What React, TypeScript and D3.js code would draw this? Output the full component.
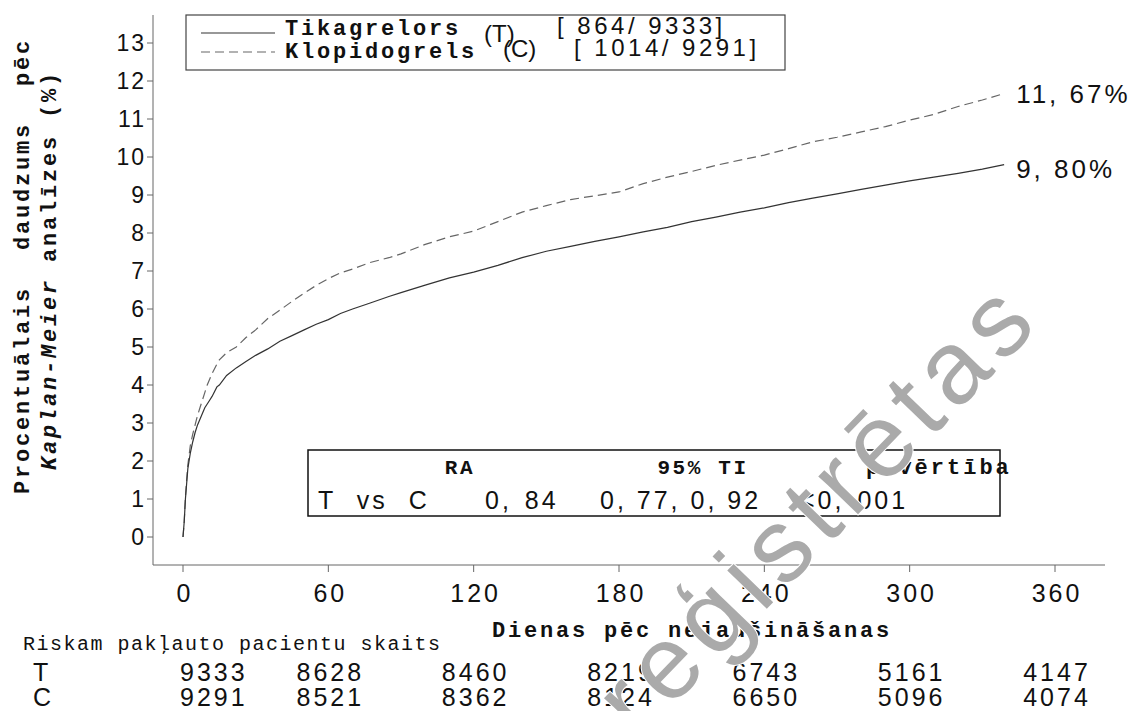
import React from "react";
import * as d3 from "d3";

const days = [0, 0.5, 1, 1.5, 2, 3, 4, 5, 6, 7, 8, 9, 10, 11, 12, 14, 15, 18, 22, 26, 30, 35, 40, 45, 50, 55, 60, 65, 70, 77, 85, 90, 100, 110, 120, 130, 140, 150, 160, 170, 180, 190, 200, 210, 220, 230, 240, 250, 260, 270, 280, 290, 300, 310, 320, 330, 339];
const ticagrelor = [0, 0.4, 1.0, 1.4, 1.8, 2.2, 2.5, 2.75, 2.95, 3.1, 3.25, 3.4, 3.5, 3.6, 3.7, 3.95, 4.0, 4.25, 4.45, 4.62, 4.78, 4.95, 5.15, 5.3, 5.45, 5.6, 5.72, 5.88, 6.0, 6.15, 6.33, 6.43, 6.63, 6.82, 6.97, 7.15, 7.35, 7.52, 7.65, 7.78, 7.9, 8.03, 8.15, 8.3, 8.42, 8.55, 8.66, 8.8, 8.92, 9.03, 9.15, 9.26, 9.37, 9.47, 9.57, 9.68, 9.8];
const clopidogrel = [0, 0.4, 1.05, 1.5, 1.9, 2.4, 2.7, 2.95, 3.2, 3.4, 3.6, 3.8, 4.0, 4.15, 4.3, 4.55, 4.66, 4.85, 5.0, 5.25, 5.45, 5.75, 5.97, 6.2, 6.42, 6.62, 6.8, 6.95, 7.05, 7.22, 7.35, 7.45, 7.7, 7.9, 8.05, 8.3, 8.55, 8.72, 8.88, 8.98, 9.08, 9.3, 9.47, 9.62, 9.78, 9.92, 10.05, 10.22, 10.4, 10.52, 10.66, 10.8, 10.97, 11.12, 11.33, 11.5, 11.67];

const xTicks = [0, 60, 120, 180, 240, 300, 360];
const yTicks = [0, 1, 2, 3, 4, 5, 6, 7, 8, 9, 10, 11, 12, 13];
const atRiskT = [9333, 8628, 8460, 8219, 6743, 5161, 4147];
const atRiskC = [9291, 8521, 8362, 8124, 6650, 5096, 4074];
const endLabels = ["11, 67%", "9, 80%"];

const MONO = "'Liberation Mono', 'DejaVu Sans Mono', monospace";
const SANS = "'Liberation Sans', Arial, sans-serif";

export default function App() {
  const x = d3.scaleLinear().domain([0, 360]).range([183, 1055]);
  const y = d3.scaleLinear().domain([0, 13]).range([537, 43]);
  const line = d3
    .line<number>()
    .x((_, i) => x(days[i]))
    .y((d) => y(d))
    .curve(d3.curveLinear);

  const axisColor = "#666";
  const last = days.length - 1;

  return (
    <svg
      width={1131}
      height={711}
      style={{ position: "absolute", left: 0, top: 0, background: "#fff" }}
    >
      <rect x={0} y={0} width={1131} height={711} fill="#fff" />

      {/* axes */}
      <line x1={153} x2={153} y1={15} y2={565} stroke={axisColor} strokeWidth={1} />
      <line x1={153} x2={1105} y1={565} y2={565} stroke={axisColor} strokeWidth={1} />
      {yTicks.map((t) => (
        <g key={"y" + t}>
          <line x1={147} x2={153} y1={y(t)} y2={y(t)} stroke={axisColor} />
          <text
            x={146}
            y={y(t)}
            dy="0.36em"
            textAnchor="end"
            fontFamily={SANS}
            fontSize={23}
            letterSpacing={2}
            fill="#111"
          >
            {t}
          </text>
        </g>
      ))}
      {xTicks.map((t) => (
        <g key={"x" + t}>
          <line x1={x(t)} x2={x(t)} y1={565} y2={572} stroke={axisColor} />
          <text
            x={x(t) + 2}
            y={602}
            textAnchor="middle"
            fontFamily={SANS}
            fontSize={25}
            letterSpacing={3}
            fill="#111"
          >
            {t}
          </text>
        </g>
      ))}

      {/* y axis title */}
      <text
        transform="translate(29,266) rotate(-90)"
        textAnchor="middle"
        fontFamily={MONO}
        fontWeight="bold"
        fontSize={22}
        letterSpacing={2.8}
        wordSpacing={20}
        fill="#111"
      >
        Procentuālais daudzums pēc
      </text>
      <text
        transform="translate(56,270) rotate(-90)"
        textAnchor="middle"
        fontFamily={MONO}
        fontWeight="bold"
        fontSize={22}
        letterSpacing={2.8}
        fill="#111"
      >
        <tspan fontStyle="italic">Kaplan-Meier</tspan> analīzes (%)
      </text>

      {/* x axis title */}
      <text
        x={692}
        y={637}
        textAnchor="middle"
        fontFamily={MONO}
        fontWeight="bold"
        fontSize={22}
        letterSpacing={2.8}
        fill="#111"
      >
        Dienas pēc nejaušināšanas
      </text>

      {/* curves */}
      <path d={line(clopidogrel) || ""} fill="none" stroke="#666" strokeWidth={1.2} strokeDasharray="9,5" />
      <path d={line(ticagrelor) || ""} fill="none" stroke="#333" strokeWidth={1.2} />

      {/* end labels */}
      <text x={x(days[last]) + 12} y={y(clopidogrel[last])} dy="0.36em" fontFamily={SANS} fontSize={26} letterSpacing={3} fill="#111">
        {endLabels[0]}
      </text>
      <text x={x(days[last]) + 12} y={y(ticagrelor[last]) + 4} dy="0.36em" fontFamily={SANS} fontSize={26} letterSpacing={3} fill="#111">
        {endLabels[1]}
      </text>

      {/* legend */}
      <rect x={186} y={15} width={599} height={55} fill="#fff" stroke="#444" strokeWidth={1.2} />
      <line x1={201} x2={275} y1={33} y2={33} stroke="#333" strokeWidth={1.2} />
      <line x1={201} x2={275} y1={52} y2={52} stroke="#666" strokeWidth={1.2} strokeDasharray="9,5" />
      <text x={285} y={35} fontFamily={MONO} fontWeight="bold" fontSize={22} letterSpacing={2.8} fill="#111">
        Tikagrelors
      </text>
      <text x={484} y={42} fontFamily={SANS} fontSize={24} fill="#111">
        (T)
      </text>
      <text x={557} y={34} fontFamily={SANS} fontSize={24} letterSpacing={3.5} fill="#111">
        [ 864/ 9333]
      </text>
      <text x={285} y={58} fontFamily={MONO} fontWeight="bold" fontSize={22} letterSpacing={2.8} fill="#111">
        Klopidogrels
      </text>
      <text x={503} y={57} fontFamily={SANS} fontSize={24} fill="#111">
        (C)
      </text>
      <text x={574} y={56} fontFamily={SANS} fontSize={24} letterSpacing={3.5} fill="#111">
        [ 1014/ 9291]
      </text>

      {/* stats box */}
      <rect x={308} y={450} width={692} height={66} fill="#fff" stroke="#111" strokeWidth={1.5} />
      <text x={460} y={474} textAnchor="middle" fontFamily={MONO} fontWeight="bold" fontSize={21} letterSpacing={2.6} fill="#111">
        RA
      </text>
      <text x={703} y={474} textAnchor="middle" fontFamily={MONO} fontWeight="bold" fontSize={21} letterSpacing={2.6} fill="#111">
        95% TI
      </text>
      <text x={866} y={474} fontFamily={MONO} fontWeight="bold" fontSize={22} letterSpacing={3} fill="#111">
        p vērtība
      </text>
      <text x={318} y={509} fontFamily={SANS} fontSize={25} letterSpacing={3} wordSpacing={11} fill="#111">
        T vs C
      </text>
      <text x={485} y={509} fontFamily={SANS} fontSize={25} letterSpacing={3} wordSpacing={3} fill="#111">
        0, 84
      </text>
      <text x={600} y={509} fontFamily={SANS} fontSize={25} letterSpacing={3} fill="#111">
        0, 77, 0, 92
      </text>
      <text x={800} y={509} fontFamily={SANS} fontSize={25} letterSpacing={3} wordSpacing={3} fill="#111">
        &lt;0, 001
      </text>

      {/* at risk table */}
      <text x={23} y={650} fontFamily={MONO} fontSize={20} letterSpacing={1.5} fill="#111">
        Riskam pakļauto pacientu skaits
      </text>
      <text x={33} y={681} fontFamily={SANS} fontSize={25} fill="#111">T</text>
      <text x={33} y={706} fontFamily={SANS} fontSize={25} fill="#111">C</text>
      {atRiskT.map((v, i) => (
        <text
          key={"t" + i}
          x={i === 0 ? x(xTicks[i]) - 3 : x(xTicks[i]) + 2}
          y={681}
          textAnchor={i === 0 ? "start" : "middle"}
          fontFamily={SANS}
          fontSize={25}
          letterSpacing={3}
          fill="#111"
        >
          {v}
        </text>
      ))}
      {atRiskC.map((v, i) => (
        <text
          key={"c" + i}
          x={i === 0 ? x(xTicks[i]) - 3 : x(xTicks[i]) + 2}
          y={706}
          textAnchor={i === 0 ? "start" : "middle"}
          fontFamily={SANS}
          fontSize={25}
          letterSpacing={3}
          fill="#111"
        >
          {v}
        </text>
      ))}

      {/* watermark */}
      <text
        transform="translate(816,506) rotate(-46)"
        textAnchor="middle"
        dominantBaseline="central"
        fontFamily={SANS}
        fontSize={104}
        letterSpacing={9}
        fill="#aaa"
        stroke="#fff"
        strokeWidth={2}
        paintOrder="stroke"
      >
        reģistrētas
      </text>
    </svg>
  );
}
